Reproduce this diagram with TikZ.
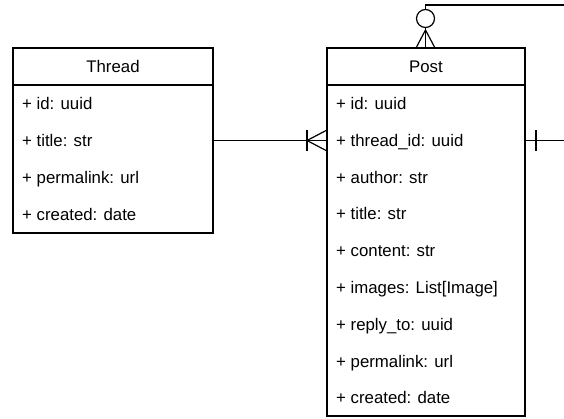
\documentclass[tikz,border=0pt]{standalone}
\usepackage{fontspec}
\setmainfont{Liberation Sans}
\begin{document}
\begin{tikzpicture}[x=1pt,y=-1pt,
  lw/.style={line width=1.2pt,black},
  box/.style={lw,fill=white},
  hdr/.style={font=\fontsize{16.8}{20}\selectfont,inner sep=0pt,anchor=base},
  fld/.style={font=\fontsize{16.8}{20}\selectfont,inner sep=0pt,anchor=base west},
  conn/.style={lw}]
\useasboundingbox (0,0) rectangle (564,418);
% Thread
\draw[box] (13,48) rectangle (213,233);
\draw[lw] (13,85) -- (213,85);
\node[hdr] (thread) at (113,72.5) {Thread};
\node[fld] (t1) at (22,109.5) {+ id: uuid};
\node[fld] (t2) at (22,146.5) {+ title: str};
\node[fld] (t3) at (22,183.5) {+ permalink: url};
\node[fld] (t4) at (22,220.5) {+ created: date};
% Post
\draw[box] (327,48) rectangle (525,416);
\draw[lw] (327,85) -- (525,85);
\node[hdr] (post) at (426,72.5) {Post};
\foreach \t [count=\i] in {{+ id: uuid},{+ thread\_id: uuid},{+ author: str},{+ title: str},{+ content: str},{+ images: List[Image]},{+ reply\_to: uuid},{+ permalink: url},{+ created: date}}
  \node[fld] (p\i) at (336,{85+36.8*(\i-0.5)+6}) {\t};
% coordinates
\coordinate (tr) at (213,140.5);
\coordinate (pl) at (327,140.5);
\coordinate (pr) at (525,140.5);
\coordinate (edge1) at (564,140.5);
\coordinate (top) at (425.5,5);
\coordinate (edge2) at (564,5);
% Thread -- Post (one to many)
\draw[conn] (tr) -- (pl);
\draw[conn] (307,130) -- (307,151);
\draw[conn] (327,130) -- (307,140.5) -- (327,151);
% Post right side (one)
\draw[conn] (pr) -- (edge1);
\draw[conn] (536,130) -- (536,151);
% self relation at top (zero to many)
\draw[conn] (edge2) -- (top) -- (425.5,9.5);
\draw[conn] (425.5,18.5) circle[radius=9];
\draw[conn] (425.5,27.5) -- (425.5,48);
\draw[conn] (416,48) -- (425.5,30) -- (435,48);
\end{tikzpicture}
\end{document}
